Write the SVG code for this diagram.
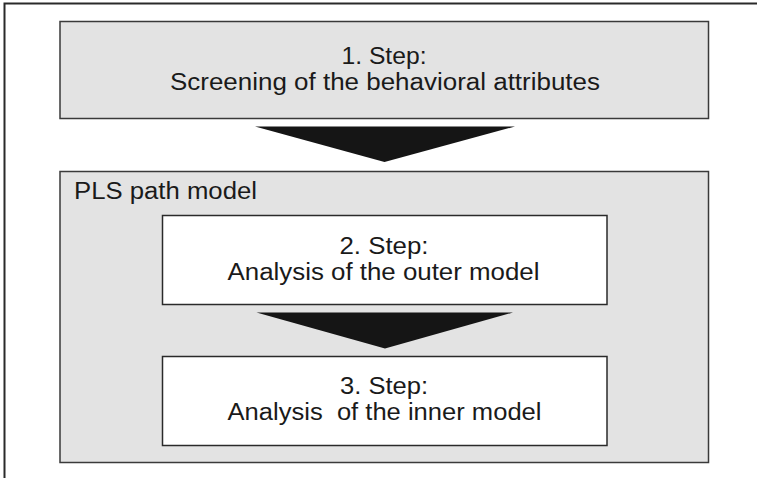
<svg xmlns="http://www.w3.org/2000/svg" width="757" height="478" viewBox="0 0 757 478">
<style>
.gbox{fill:#e3e3e3;stroke:#3a3a3a;stroke-width:1.5}
.wbox{fill:#ffffff;stroke:#2a2a2a;stroke-width:1.5}
.t{font-family:"Liberation Sans",Arial,sans-serif;font-size:23px;fill:#1a1a1a;white-space:pre}
.arrow{fill:#151515}
</style>
<rect width="757" height="478" fill="#ffffff"/>
<path d="M4.5 478 V3.5 H757" fill="none" stroke="#2a2a2a" stroke-width="2"/>
<g id="step1">
<rect class="gbox" x="60" y="21.5" width="648.5" height="97"/>
<text class="t" x="341.5" y="64" textLength="85" lengthAdjust="spacingAndGlyphs">1. Step:</text>
<text class="t" x="170" y="89.5" textLength="430" lengthAdjust="spacingAndGlyphs">Screening of the behavioral attributes</text>
</g>
<g id="pls">
<rect class="gbox" x="60" y="171.5" width="648.5" height="291"/>
<text class="t" x="74" y="198.5" textLength="183" lengthAdjust="spacingAndGlyphs">PLS path model</text>
</g>
<g id="step2">
<rect class="wbox" x="162.5" y="215.5" width="444.5" height="89"/>
<text class="t" x="339.5" y="253.5" textLength="89" lengthAdjust="spacingAndGlyphs">2. Step:</text>
<text class="t" x="227.5" y="280" textLength="312" lengthAdjust="spacingAndGlyphs">Analysis of the outer model</text>
</g>
<g id="step3">
<rect class="wbox" x="162.5" y="356.5" width="444.5" height="89"/>
<text class="t" x="340" y="393.5" textLength="88" lengthAdjust="spacingAndGlyphs" xml:space="preserve">3. Step:</text>
<text class="t" x="227.5" y="420" textLength="314" lengthAdjust="spacingAndGlyphs" xml:space="preserve">Analysis  of the inner model</text>
</g>
<g id="connectors">
<polygon class="arrow" points="255,126.5 515,126.5 384.5,162"/>
<polygon class="arrow" points="256.5,312.5 513,312.5 385,348.5"/>
</g>
</svg>
